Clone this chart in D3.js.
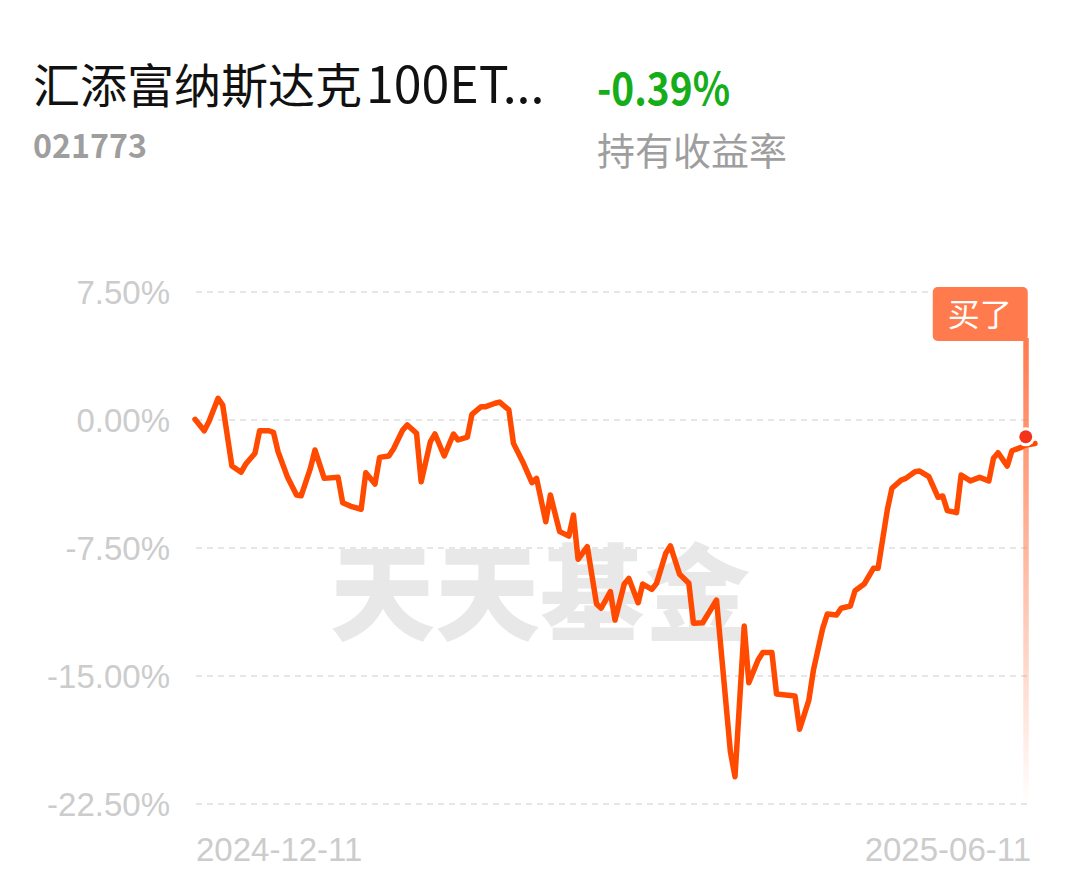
<!DOCTYPE html>
<html>
<head>
<meta charset="utf-8">
<script src="https://cdn.jsdelivr.net/npm/d3@7"></script>
<style>
  html, body { margin: 0; padding: 0; background: #fff; }
  svg { display: block; }
</style>
</head>
<body>
<svg id="chart" width="1080" height="881"></svg>
<script>
// ---- data ----
const fundNameCJK = "汇添富纳斯达克";
const fundNameLatin = "100ET...";
const fundCode = "021773";
const holdReturn = "-0.39%";
const holdReturnLabel = "持有收益率";
const watermark = "天天基金";
const buyLabel = "买了";

const dates = [
  "2024-12-11","2024-12-13","2024-12-14","2024-12-16","2024-12-17","2024-12-19","2024-12-21","2024-12-22","2024-12-24","2024-12-25",
  "2024-12-27","2024-12-28","2024-12-29","2024-12-31","2025-01-02","2025-01-03","2025-01-05","2025-01-06","2025-01-08","2025-01-11",
  "2025-01-12","2025-01-14","2025-01-16","2025-01-17","2025-01-19","2025-01-20","2025-01-22","2025-01-23","2025-01-25","2025-01-26",
  "2025-01-28","2025-01-29","2025-01-31","2025-02-01","2025-02-03","2025-02-05","2025-02-06","2025-02-08","2025-02-09","2025-02-11",
  "2025-02-12","2025-02-14","2025-02-15","2025-02-17","2025-02-18","2025-02-20","2025-02-22","2025-02-23","2025-02-25","2025-02-26",
  "2025-02-28","2025-03-02","2025-03-03","2025-03-04","2025-03-06","2025-03-08","2025-03-09","2025-03-11","2025-03-12","2025-03-14",
  "2025-03-15","2025-03-17","2025-03-18","2025-03-20","2025-03-21","2025-03-23","2025-03-24","2025-03-26","2025-03-28","2025-03-29",
  "2025-03-31","2025-04-03","2025-04-06","2025-04-07","2025-04-09","2025-04-10","2025-04-12","2025-04-13","2025-04-15","2025-04-16",
  "2025-04-20","2025-04-21","2025-04-23","2025-04-24","2025-04-26","2025-04-27","2025-04-29","2025-04-30","2025-05-02","2025-05-03",
  "2025-05-05","2025-05-07","2025-05-08","2025-05-10","2025-05-11","2025-05-13","2025-05-14","2025-05-16","2025-05-17","2025-05-19",
  "2025-05-21","2025-05-22","2025-05-23","2025-05-25","2025-05-26","2025-05-28","2025-05-30","2025-06-01","2025-06-02","2025-06-03",
  "2025-06-05","2025-06-06","2025-06-08","2025-06-09","2025-06-11"
];
const returns = [
  0.04,-0.63,-0.10,1.27,0.88,-2.70,-3.06,-2.58,-1.95,-0.63,
  -0.63,-0.72,-1.86,-3.32,-4.39,-4.44,-2.83,-1.76,-3.42,-3.36,
  -4.85,-5.08,-5.23,-3.09,-3.75,-2.19,-2.11,-1.70,-0.59,-0.29,
  -0.78,-3.62,-1.27,-0.82,-2.11,-0.82,-1.17,-1.01,0.33,0.78,
  0.78,0.98,1.05,0.59,-1.37,-2.44,-3.67,-3.42,-5.96,-4.39,
  -6.54,-6.80,-5.57,-8.16,-7.42,-10.78,-11.03,-10.06,-11.72,-9.61,
  -9.28,-10.71,-9.61,-9.92,-9.57,-7.81,-7.38,-9.04,-9.57,-11.91,
  -11.88,-10.55,-19.44,-20.90,-12.07,-15.39,-14.06,-13.63,-13.63,-16.05,
  -16.17,-18.12,-16.41,-14.65,-12.21,-11.37,-11.43,-11.03,-10.90,-10.00,
  -9.61,-8.69,-8.69,-5.27,-4.00,-3.52,-3.42,-3.03,-2.99,-3.32,
  -4.53,-4.45,-5.31,-5.43,-3.22,-3.57,-3.36,-3.57,-2.24,-1.92,
  -2.70,-1.80,-1.60,-1.46,-1.38
];
const yTicks = [7.5, 0, -7.5, -15, -22.5];
const xTickLabels = ["2024-12-11", "2025-06-11"];
const buyDate = "2025-06-09";
const buyValue = -0.98;

// ---- drawing ----
const parse = d3.timeParse("%Y-%m-%d");
const data = dates.map((d, i) => ({ date: parse(d), v: returns[i] }));

const svg = d3.select("#chart");
const cjk = "'Noto Sans CJK SC', 'Noto Sans', sans-serif";
const latin = "'Liberation Sans', Arial, sans-serif";

const x = d3.scaleTime()
  .domain([parse(xTickLabels[0]), parse(xTickLabels[1])])
  .range([195, 1035]);
const y = d3.scaleLinear().domain([-22.5, 7.5]).range([804, 292]);

// header
const title = svg.append("text").attr("x", 33).attr("y", 103)
  .attr("font-family", cjk).attr("font-size", 47).attr("fill", "#111");
title.append("tspan").text(fundNameCJK);
title.append("tspan").attr("dx", 4).attr("font-size", 50).text(fundNameLatin);

svg.append("text").attr("x", 33).attr("y", 158)
  .attr("font-family", cjk).attr("font-size", 33).attr("font-weight", 700).attr("fill", "#9e9e9e")
  .attr("textLength", 114).attr("lengthAdjust", "spacingAndGlyphs")
  .text(fundCode);
svg.append("text").attr("x", 597).attr("y", 105)
  .attr("font-family", cjk).attr("font-size", 45).attr("font-weight", 700).attr("fill", "#16ad1a")
  .attr("textLength", 133).attr("lengthAdjust", "spacingAndGlyphs")
  .text(holdReturn);
svg.append("text").attr("x", 597).attr("y", 165)
  .attr("font-family", cjk).attr("font-size", 38).attr("fill", "#9e9e9e")
  .text(holdReturnLabel);

// watermark
svg.append("text").attr("x", 330).attr("y", 632)
  .attr("font-family", cjk).attr("font-size", 105).attr("font-weight", 900).attr("fill", "#e8e8e8")
  .text(watermark);

// grid
const grid = svg.append("g");
grid.selectAll("line").data(yTicks).join("line")
  .attr("x1", 196).attr("x2", 1030)
  .attr("y1", d => y(d)).attr("y2", d => y(d))
  .attr("stroke", "#e6e6e6").attr("stroke-width", 2).attr("stroke-dasharray", "6,5");

// y axis labels
const yAxis = d3.axisLeft(y).tickValues(yTicks).tickSize(0).tickPadding(0)
  .tickFormat(d => d.toFixed(2) + "%");
const ya = svg.append("g").attr("transform", "translate(170,0)").call(yAxis);
ya.select(".domain").remove();
ya.selectAll("text").attr("font-family", latin).attr("font-size", 33).attr("fill", "#cccccc")
  .attr("dy", "0.36em");

// x axis labels
svg.append("text").attr("x", x(parse(xTickLabels[0])) + 1).attr("y", 861)
  .attr("font-family", latin).attr("font-size", 33).attr("fill", "#cccccc")
  .text(xTickLabels[0]);
svg.append("text").attr("x", x(parse(xTickLabels[1])) - 4).attr("y", 861)
  .attr("text-anchor", "end")
  .attr("font-family", latin).attr("font-size", 33).attr("fill", "#cccccc")
  .text(xTickLabels[1]);

// buy marker vertical line with gradient
const defs = svg.append("defs");
const grad = defs.append("linearGradient").attr("id", "buyGrad")
  .attr("x1", 0).attr("y1", 0).attr("x2", 0).attr("y2", 1);
grad.append("stop").attr("offset", "0%").attr("stop-color", "#ff7a4d").attr("stop-opacity", 1);
grad.append("stop").attr("offset", "100%").attr("stop-color", "#ff7a4d").attr("stop-opacity", 0);

const bx = x(parse(buyDate));
svg.append("rect").attr("x", bx - 2.5).attr("y", 338).attr("width", 5.5).attr("height", 804 - 338)
  .attr("fill", "url(#buyGrad)");

// line
const line = d3.line().x(d => x(d.date)).y(d => y(d.v)).curve(d3.curveLinear);
svg.append("path").datum(data)
  .attr("d", line)
  .attr("fill", "none").attr("stroke", "#ff4a00").attr("stroke-width", 5.5)
  .attr("stroke-linejoin", "round").attr("stroke-linecap", "round");

// buy label box
svg.append("rect").attr("x", bx - 93).attr("y", 287).attr("width", 95).attr("height", 54)
  .attr("rx", 5).attr("fill", "#ff7a4d");
svg.append("text").attr("x", bx - 46).attr("y", 326)
  .attr("text-anchor", "middle")
  .attr("font-family", cjk).attr("font-size", 32).attr("fill", "#fff")
  .text(buyLabel);

// buy dot (white ring + red fill)
svg.append("circle").attr("cx", bx).attr("cy", y(buyValue)).attr("r", 9.5)
  .attr("fill", "#fff");
svg.append("circle").attr("cx", bx).attr("cy", y(buyValue)).attr("r", 6.5)
  .attr("fill", "#f5321a");
</script>
</body>
</html>
